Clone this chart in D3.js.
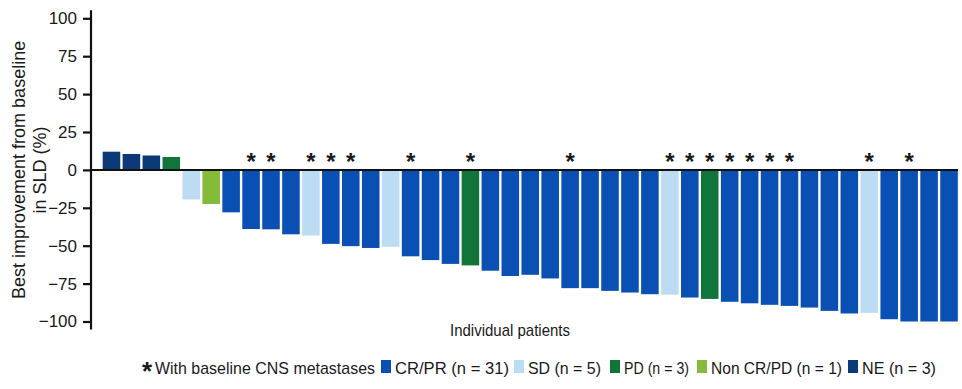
<!DOCTYPE html>
<html>
<head>
<meta charset="utf-8">
<script src="https://cdn.jsdelivr.net/npm/d3@7"></script>
<style>
  body { margin: 0; background: #fff; }
  svg text { font-family: "Liberation Sans", Arial, sans-serif; fill: #1a1a1a; }
</style>
</head>
<body>
<svg id="chartSVG" width="962" height="389"></svg>
<script>
// best improvement from baseline in SLD (%), one per patient
const patients = d3.range(1, 44);
const values = [12, 10.5, 9.5, 8.5, -19.5, -22.5, -28, -39, -39.2, -42.5, -43.3, -48.8, -50.3, -51.5,
    -50.7, -57, -59.5, -62, -63, -66.5, -70, -69.2, -71.6, -78, -78, -79.8, -80.9, -82, -82.3,
    -84.2, -85.1, -87, -88, -89, -89.7, -90.8, -93, -94.7, -94.3, -98.5, -100, -100, -100];
const responses = ["NE", "NE", "NE", "PD", "SD", "Non", "CR", "CR", "CR", "CR", "SD", "CR", "CR", "CR",
    "SD", "CR", "CR", "CR", "PD", "CR", "CR", "CR", "CR", "CR", "CR", "CR", "CR", "CR", "SD",
    "CR", "PD", "CR", "CR", "CR", "CR", "CR", "CR", "CR", "SD", "CR", "CR", "CR", "CR"];
// patients with baseline CNS metastases
const cnsPatients = [8, 9, 11, 12, 13, 16, 19, 24, 29, 30, 31, 32, 33, 34, 35, 39, 41];
const yTicks = [100, 75, 50, 25, 0, -25, -50, -75, -100];

const legendKeys = ["CR", "SD", "PD", "Non", "NE"];
const legendLabels = ["CR/PR (n = 31)", "SD (n = 5)", "PD (n = 3)", "Non CR/PD (n = 1)", "NE (n = 3)"];
const colours = ["#0a50b4", "#bcdcf4", "#0f7538", "#84bb3a", "#0b3877"];

const colourScale = d3.scaleOrdinal().domain(legendKeys).range(colours);

var svg = d3.select("#chartSVG");

var x = d3.scaleBand()
    .domain(patients)
    .range([101.5, 959])
    .paddingInner(0.12)
    .paddingOuter(0.06);

var y = d3.scaleLinear()
    .domain([-100, 100])
    .range([321.5, 18.3]);

// bars
svg.append("g").selectAll("rect")
    .data(patients)
    .join("rect")
        .attr("x", d => x(d))
        .attr("width", x.bandwidth())
        .attr("y", (d, i) => y(Math.max(0, values[i])))
        .attr("height", (d, i) => Math.abs(y(values[i]) - y(0)))
        .attr("fill", (d, i) => colourScale(responses[i]));

// zero line
svg.append("line")
    .attr("x1", 91).attr("x2", 958)
    .attr("y1", y(0)).attr("y2", y(0))
    .attr("stroke", "#111").attr("stroke-width", 2);

// y axis
var yAxis = d3.axisLeft(y).tickValues(yTicks).tickSize(8).tickPadding(6)
    .tickFormat(d => d < 0 ? "\u2212" + Math.abs(d) : d);
var yG = svg.append("g")
    .attr("transform", "translate(91,0)")
    .call(yAxis);
yG.select(".domain").attr("stroke", "#111").attr("stroke-width", 2.2)
    .attr("d", "M0," + (y(100) - 8) + "V" + (y(-100) + 8));
yG.selectAll(".tick line").attr("stroke", "#111").attr("stroke-width", 2.2);
yG.selectAll(".tick text")
    .style("font-family", "'Liberation Sans', Arial, sans-serif")
    .style("font-size", "17px").attr("fill", "#222");

// y title
var yTitle = svg.append("text")
    .attr("transform", "translate(25," + y(0) + ") rotate(-90)")
    .attr("text-anchor", "middle")
    .style("font-size", "18px");
yTitle.append("tspan").attr("x", 0).attr("dy", 0).text("Best improvement from baseline");
yTitle.append("tspan").attr("x", 0).attr("dy", 21).text("in SLD (%)");

// stars
svg.append("g").selectAll("text")
    .data(cnsPatients)
    .join("text")
        .attr("x", d => x(d) + x.bandwidth() / 2)
        .attr("y", 170)
        .attr("text-anchor", "middle")
        .style("font-size", "24px")
        .style("font-weight", "bold")
        .text("*");

// x title (condensed)
svg.append("text")
    .attr("x", 450).attr("y", 336)
    .attr("textLength", 120).attr("lengthAdjust", "spacingAndGlyphs")
    .style("font-size", "17px")
    .text("Individual patients");

// legend (condensed text)
var legend = svg.append("g").style("font-size", "17px");
legend.append("text").attr("x", 142).attr("y", 380).style("font-size", "26px").style("font-weight", "bold").text("*");
legend.append("text").attr("x", 155).attr("y", 374)
    .attr("textLength", 220).attr("lengthAdjust", "spacingAndGlyphs")
    .text("With baseline CNS metastases");
const legendX = [381, 514, 610, 697, 848];
const legendW = [114, 73, 65, 131, 74];
legendKeys.forEach((k, i) => {
    legend.append("rect")
        .attr("x", legendX[i]).attr("y", 360)
        .attr("width", 10).attr("height", 13)
        .attr("fill", colourScale(k));
    legend.append("text")
        .attr("x", legendX[i] + 14).attr("y", 374)
        .attr("textLength", legendW[i]).attr("lengthAdjust", "spacingAndGlyphs")
        .text(legendLabels[i]);
});
</script>
</body>
</html>
